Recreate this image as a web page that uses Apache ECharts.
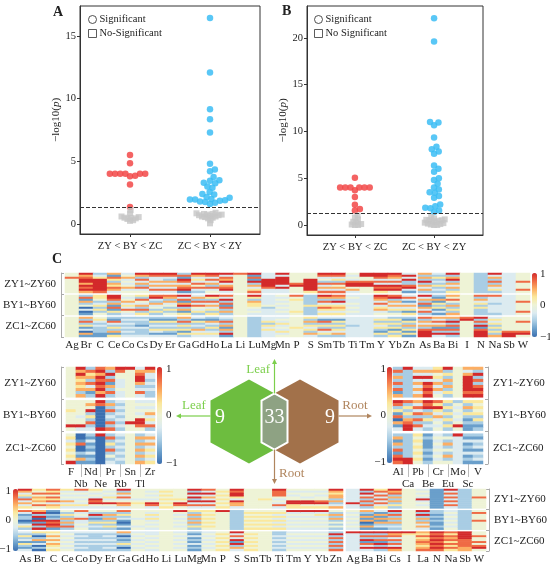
<!DOCTYPE html>
<html>
<head>
<meta charset="utf-8">
<script src="https://cdn.jsdelivr.net/npm/echarts@6/dist/echarts.min.js"></script>
<style>html,body{margin:0;padding:0;background:#fff}#chart{width:550px;height:568px}</style>
</head>
<body>
<div id="chart"></div>
<script>
var SERIF = 'Liberation Serif';
var PAL = ['#3b6fb0','#6a9fcb','#a9cde4','#dcebf0','#eef3d6','#fbe89c','#fcae63','#ef6b45','#d32a2b'];

// panels A / B : -log10(p) per element
var catNames = ['ZY < BY < ZC', 'ZC < BY < ZY'];
var pCut = 1.301;
var aRedSig = [5.5, 4.85, 4.0, 4.0, 4.0, 4.0, 4.0, 4.0, 3.85, 3.8, 3.15, 1.35];
var aRedNs = [1.1, 0.85, 0.6, 0.55, 0.5, 0.5, 0.45, 0.4, 0.3, 0.25];
var aBlueSig = [16.45, 12.1, 9.15, 8.35, 7.3, 4.8, 4.35, 4.2, 3.75, 3.5, 3.45, 3.3, 3.25, 3.0, 2.9, 2.55, 2.4, 2.35, 2.15, 2.1, 2.0, 1.95, 1.95, 1.9, 1.85, 1.8, 1.75, 1.7, 1.6];
var aBlueNs = [0.9, 0.85, 0.8, 0.8, 0.75, 0.75, 0.7, 0.7, 0.65, 0.6, 0.6, 0.55, 0.5, 0.45, 0.3, 0.05];
var bRedSig = [5.05, 4.0, 4.0, 4.0, 4.0, 4.0, 4.0, 3.7, 3.0, 2.15, 1.7, 1.55];
var bRedNs = [1.0, 0.8, 0.6, 0.35, 0.3, 0.1, 0.05, 0.0, 0.0];
var bBlueSig = [22.1, 19.6, 11.0, 10.95, 10.65, 9.35, 8.35, 8.1, 7.85, 7.6, 6.35, 6.0, 5.7, 5.0, 4.8, 4.4, 4.0, 3.8, 3.5, 3.45, 3.1, 2.9, 2.2, 2.0, 1.85, 1.8, 1.55, 1.4];
var bBlueNs = [0.85, 0.7, 0.6, 0.55, 0.5, 0.5, 0.45, 0.4, 0.3, 0.25, 0.2, 0.15, 0.1, 0.05, 0.0, 0.0];
var aTicks = [0, 5, 10, 15];
var bTicks = [0, 5, 10, 15, 20];

// panel C heatmaps: one string per column, rows ZY|BY|ZC, digit 0..8 = -1..1
var rowGroups = ['ZY1~ZY60', 'BY1~BY60', 'ZC1~ZC60'];
var topColsL = ['Ag','Br','C','Ce','Co','Cs','Dy','Er','Ga','Gd','Ho','La','Li','Lu','Mg','Mn','P','S','Sm','Tb','Ti','Tm','Y','Yb','Zn'];
var topCellsL = [
  '4474444444|4444444444|4444444444',
  '8678868786|2716240301|6272513061',
  '2358888887|5542352524|4532322211',
  '6175265763|8872617152|2173252615',
  '3463434634|4346353743|2323232323',
  '8627362734|5274362725|2322132223',
  '8733636373|7832634252|2152325313',
  '8732636373|7626342524|2152325213',
  '2718736781|8371682615|6272525152',
  '8635374732|3627374352|3152326353',
  '8737362734|8527363525|2163252353',
  '8376836783|7382717262|3272616281',
  '7444444444|4444444444|4444444444',
  '8171826357|8526554343|2222222222',
  '3338888733|3333342333|3352535333',
  '8388883833|4343434343|3435343534',
  '4444478444|7454444454|4444454444',
  '4448888885|2222252222|5262535263',
  '8734273637|8627357535|3172527352',
  '8735274637|7628356535|3152525362',
  '4343788463|3433434343|3333233333',
  '8844788444|3333333333|3333333333',
  '8873738785|8763735634|3525352152',
  '8763738784|7826363524|2525251525',
  '3838227831|3731363515|2152625151'
];
var topColsR = ['As','Ba','Bi','I','N','Na','Sb','W'];
var topCellsR = [
  '6262826362|8362716372|7263627888',
  '3252325232|2161525131|6373617283',
  '8268263625|6474262526|6282717282',
  '4444444444|4444444444|7844444444',
  '2222222222|7263525222|8272817888',
  '8362726352|7333233332|3535252526',
  '3333333333|3333333333|4444444788',
  '4444744474|4447444474|4474444784'
];
var midColsL = ['F','Nb','Nd','Ne','Pr','Rb','Sn','Tl','Zr'];
var midCellsL = [
  '4444444444|4445444484|4535454548',
  '8686565626|4444434483|0017002161',
  '2756273612|4648252723|2131213121',
  '7868787868|8700000008|8000000000',
  '6282716272|2627232727|2725272423',
  '8744333433|3232323232|3232323232',
  '8444444444|4444444844|4444444444',
  '3678862373|3434348874|2626262626',
  '8633232322|3434635372|3636353535'
];
var midColsR = ['Al','Ca','Pb','Be','Cr','Eu','Mo','Sc','V'];
var midCellsR = [
  '2726272716|8725170613|2616271787',
  '8222222222|7252526788|2222222288',
  '3638363636|6373727273|5454545454',
  '3638387878|8782625232|1211121212',
  '5645363634|7585363434|3434343434',
  '8252626252|5252525252|2426242624',
  '4444444444|2434343484|8333333333',
  '6368888878|5262521211|2131213121',
  '6282727878|5454525212|2132313231'
];
var botColsL = ['As','Br','C','Ce','Co','Dy','Er','Ga','Gd','Ho','Li','Lu','Mg','Mn','P','S','Sm','Tb','Ti','Tm','Y','Yb','Zn'];
var botCellsL = [
  '8635273635|7312201352|3252315213',
  '5474656474|6828081828|5202613020',
  '7574757365|1021287871|5464646545',
  '5343436353|4252626272|3434343434',
  '7343434353|7343733434|3232323232',
  '5434387843|4282125232|3222323222',
  '4343534843|4262625252|3232323232',
  '8263734763|7252310131|6202125202',
  '4444434544|4444344434|3434343434',
  '4343434873|4353534343|3343434343',
  '4545454545|4444444444|4444444444',
  '4444454874|8434343434|3434343434',
  '8283828373|5262626252|2131213121',
  '7383638373|5454545454|3434343434',
  '4545454545|8444444444|4545454545',
  '8788538663|2222222222|8373818263',
  '4444444444|4545454545|4545454545',
  '4444454444|4545454545|4444444444',
  '8777434373|4535353535|2232323232',
  '4343448855|8343434343|3434343434',
  '4344348845|8343434343|3434343434',
  '4343447845|8353434343|3434343434',
  '8656626236|4262624242|2827272727'
];
var botColsR = ['Ag','Ba','Bi','Cs','I','La','N','Na','Sb','W'];
var botCellsR = [
  '3333333833|4343434343|8333333333',
  '8283727272|6216160161|8272817383',
  '5737373735|3161616231|8272718282',
  '8672626252|8272626232|8673727386',
  '4444444444|4444444444|8544444444',
  '3434383434|8282626363|6575676567',
  '1111111111|2212121121|8787878787',
  '8373737373|3434343434|7576757575',
  '2222222222|2222222222|8888777766',
  '4444744444|4744474444|4474474784'
];
var vennCounts = [9, 33, 9];

var chart = echarts.init(document.getElementById('chart'));

var gA = {left: 80, top: 6, width: 180, height: 228, xmin: -0.625, xmax: 1.625, ymin: -0.8, ymax: 17.4, nameGap: 5};
var gB = {left: 307, top: 6, width: 176, height: 229, xmin: -0.605, xmax: 1.618, ymin: -1.07, ymax: 23.4, nameGap: 18};

// simple beeswarm in pixel space
function swarm(vals, kx, ky, d) {
  var order = vals.map(function(v, i){ return i; }).sort(function(a, b){ return vals[a] - vals[b]; });
  var placed = [], out = [];
  order.forEach(function(i){
    var y = vals[i] * ky, bad = [], cand = [0];
    placed.forEach(function(p){
      var dy = Math.abs(p.y - y);
      if (dy < d) {
        var h = Math.sqrt(d * d - dy * dy);
        bad.push([p.x - h, p.x + h]);
        cand.push(p.x - h, p.x + h);
      }
    });
    cand.sort(function(a, b){ return Math.abs(a) - Math.abs(b) || b - a; });
    var x = cand.find(function(c){ return bad.every(function(b){ return c <= b[0] + 1e-6 || c >= b[1] - 1e-6; }); });
    placed.push({x: x, y: y});
    out[i] = x / kx;
  });
  return out;
}

function column(vals, pos, g, d) {
  var kx = g.width / (g.xmax - g.xmin), ky = g.height / (g.ymax - g.ymin);
  var off = swarm(vals, kx, ky, d);
  return vals.map(function(v, i){ return [pos + off[i], v]; });
}

var rowIds = [];
for (var i = 0; i < 32; i++) rowIds.push('r' + i);

function heatSeries(cells, g) {
  var data = [];
  cells.forEach(function(s, ci){
    s.split('|').forEach(function(grp, gi){
      for (var r = 0; r < grp.length; r++) data.push([ci, gi * 11 + r, (+grp[r] - 4) / 4]);
    });
  });
  return {type: 'heatmap', xAxisIndex: g, yAxisIndex: g, data: data, progressive: 0, emphasis: {disabled: true}};
}

function scatterAxes(g, idx, ticks) {
  var x = {
    type: 'value', gridIndex: idx, min: g.xmin, max: g.xmax,
    axisLine: {show: true, onZero: false, lineStyle: {color: '#333'}},
    axisTick: {show: true, length: 3, customValues: [0, 1], lineStyle: {color: '#333'}},
    axisLabel: {customValues: [0, 1], formatter: function(v){ return catNames[Math.round(v)]; },
      fontFamily: SERIF, fontSize: 10.5, color: '#222', margin: 7},
    splitLine: {show: false}
  };
  var y = {
    type: 'value', gridIndex: idx, min: g.ymin, max: g.ymax,
    name: '\u2212log10({i|p})', nameLocation: 'middle', nameGap: g.nameGap,
    nameTextStyle: {fontFamily: SERIF, fontSize: 11, color: '#222', rich: {i: {fontFamily: SERIF, fontSize: 11, fontStyle: 'italic', color: '#222'}}},
    axisLine: {show: true, onZero: false, lineStyle: {color: '#333'}},
    axisTick: {show: true, length: 3, customValues: ticks, lineStyle: {color: '#333'}},
    axisLabel: {customValues: ticks, fontFamily: SERIF, fontSize: 10.5, color: '#222', margin: 4},
    splitLine: {show: false}
  };
  return [x, y];
}

function heatX(idx, cols, stagger) {
  var ax = {
    type: 'category', gridIndex: idx, data: cols, position: 'bottom',
    axisLine: {show: false}, axisTick: {show: false},
    axisLabel: {interval: 0, margin: 3, fontFamily: SERIF, fontSize: 11, color: '#222'},
    splitLine: {show: false}
  };
  if (stagger) {
    ax.axisLabel.formatter = function(v, i){ return i % 2 ? '\n' + v : v; };
    ax.axisLabel.lineHeight = 12;
    ax.axisLabel.margin = 2;
    ax.axisTick = {show: true, alignWithLabel: true, length: 13, interval: function(i){ return i % 2 === 1; }, lineStyle: {color: '#bbb'}};
  }
  return ax;
}
function heatY(idx) {
  return {type: 'category', gridIndex: idx, data: rowIds, inverse: true, show: false, position: 'left'};
}
function labelY(idx, pos, off) {
  return {
    type: 'category', gridIndex: idx, data: rowGroups, inverse: true, position: pos, offset: off,
    axisLine: {show: true, lineStyle: {color: '#aaa'}},
    axisTick: {show: true, inside: true, length: 3, lineStyle: {color: '#aaa'}},
    axisLabel: {margin: 5, fontFamily: SERIF, fontSize: 11, color: '#222'},
    splitLine: {show: false}
  };
}

var axA = scatterAxes(gA, 0, aTicks), axB = scatterAxes(gB, 1, bTicks);

var grids = [
  {left: gA.left, top: gA.top, width: gA.width, height: gA.height, show: true, borderColor: '#333', borderWidth: 1},
  {left: gB.left, top: gB.top, width: gB.width, height: gB.height, show: true, borderColor: '#333', borderWidth: 1},
  {left: 64, top: 273, width: 352, height: 64},
  {left: 418, top: 273, width: 112, height: 64},
  {left: 65, top: 367, width: 90, height: 97},
  {left: 393, top: 367, width: 90, height: 97},
  {left: 18, top: 489, width: 325, height: 62},
  {left: 346, top: 489, width: 140, height: 62}
];

function cbar(left, top, h, series) {
  return {type: 'continuous', min: -1, max: 1, seriesIndex: series, inRange: {color: PAL},
    calculable: false, show: true, left: left, top: top, itemWidth: 5, itemHeight: h, padding: 0, text: null, hoverLink: false};
}

function txt(x, y, s, o) {
  o = o || {};
  return {type: 'text', x: x, y: y, z: 10, style: {text: s, fill: o.fill || '#222', fontFamily: SERIF,
    fontSize: o.size || 11, fontWeight: o.weight || 'normal',
    textAlign: o.align || 'left', align: o.align || 'left', textVerticalAlign: 'middle', verticalAlign: 'middle'}};
}
function arrow(x1, y1, x2, y2, c) {
  var dx = x2 - x1, dy = y2 - y1, L = Math.sqrt(dx * dx + dy * dy), ux = dx / L, uy = dy / L;
  var bx = x2 - ux * 5, by = y2 - uy * 5;
  return [
    {type: 'line', z: 5, shape: {x1: x1, y1: y1, x2: bx, y2: by}, style: {stroke: c, lineWidth: 1.2}},
    {type: 'polygon', z: 5, shape: {points: [[x2, y2], [bx - uy * 2.5, by + ux * 2.5], [bx + uy * 2.5, by - ux * 2.5]]}, style: {fill: c}}
  ];
}

// venn hexagons
var cy = 421.5, hh = 42, hw = 38.5, gx = 249, bx = 300, mx = (gx + bx) / 2;
function hex(cx) {
  return [[cx, cy - hh], [cx + hw, cy - hh / 2], [cx + hw, cy + hh / 2], [cx, cy + hh], [cx - hw, cy + hh / 2], [cx - hw, cy - hh / 2]];
}
var lensDy = hh - (mx - gx) * (hh / 2) / hw;
var lens = [[mx, cy - lensDy], [gx + hw, cy - hh / 2], [gx + hw, cy + hh / 2], [mx, cy + lensDy], [bx - hw, cy + hh / 2], [bx - hw, cy - hh / 2]];
var GREEN = '#6dbd3f', BROWN = '#a2714a', LGREEN = '#7ccf4c', LBROWN = '#b0855e';

var graphics = [
  txt(53, 12, 'A', {size: 14, weight: 'bold'}),
  txt(282, 11, 'B', {size: 14, weight: 'bold'}),
  txt(52, 259, 'C', {size: 14, weight: 'bold'}),
  txt(540, 274, '1'), txt(540, 305, '0'), txt(540, 337, '\u22121'),
  txt(166, 369, '1'), txt(166, 415, '0'), txt(166, 463, '\u22121'),
  txt(386, 369, '1', {align: 'right'}), txt(386, 415, '0', {align: 'right'}), txt(386, 462, '\u22121', {align: 'right'}),
  txt(11, 491, '1', {align: 'right'}), txt(11, 520, '0', {align: 'right'}), txt(11, 549, '\u22121', {align: 'right'}),
  {type: 'polygon', z: 3, shape: {points: hex(bx)}, style: {fill: BROWN}},
  {type: 'polygon', z: 3, shape: {points: hex(gx)}, style: {fill: GREEN}},
  {type: 'polygon', z: 4, shape: {points: lens}, style: {fill: '#8ea283', stroke: '#fff', lineWidth: 2}},
  txt(220, 418, String(vennCounts[0]), {size: 20, fill: '#fff', align: 'center'}),
  txt(mx, 418, String(vennCounts[1]), {size: 20, fill: '#fff', align: 'center'}),
  txt(330, 418, String(vennCounts[2]), {size: 20, fill: '#fff', align: 'center'}),
  txt(270, 370, 'Leaf', {size: 13, fill: LGREEN, align: 'right'}),
  txt(194, 406, 'Leaf', {size: 13, fill: LGREEN, align: 'center'}),
  txt(355, 406, 'Root', {size: 13, fill: LBROWN, align: 'center'}),
  txt(279, 474, 'Root', {size: 13, fill: LBROWN})
].concat(
  arrow(mx, cy - lensDy, mx, 359, LGREEN),
  arrow(gx - hw, 416, 176, 416, LGREEN),
  arrow(bx + hw, 416, 372, 416, LBROWN),
  arrow(mx, cy + lensDy, mx, 484, LBROWN)
);

function legendFor(nsName, left) {
  var hollow = {color: '#fff', borderColor: '#333', borderWidth: 1};
  return {left: left, top: 9, orient: 'vertical', itemWidth: 8, itemHeight: 8, itemGap: 3, selectedMode: false,
    textStyle: {fontFamily: SERIF, fontSize: 10.5, color: '#222', padding: [0, 0, 0, -2]},
    data: [{name: 'Significant', icon: 'circle', itemStyle: hollow}, {name: nsName, icon: 'rect', itemStyle: hollow}]};
}

function cutLine() {
  return {silent: true, symbol: ['none', 'none'], label: {show: false},
    lineStyle: {type: 'dashed', color: '#333', width: 1}, data: [{yAxis: pCut}]};
}
var RED = {color: '#f24848', opacity: 0.85};
var BLUE = {color: '#3cbdf4', opacity: 0.85};
var GRAY = {color: '#c6c6c6', opacity: 0.8};
var DS = 5.2, DN = 3.2;

var series = [
  {type: 'scatter', name: 'Significant', xAxisIndex: 0, yAxisIndex: 0, symbol: 'circle', symbolSize: 6.5, itemStyle: RED, data: column(aRedSig, 0, gA, DS)},
  {type: 'scatter', name: 'Significant', xAxisIndex: 0, yAxisIndex: 0, symbol: 'circle', symbolSize: 6.5, itemStyle: BLUE, data: column(aBlueSig, 1, gA, DS)},
  {type: 'scatter', name: 'No-Significant', xAxisIndex: 0, yAxisIndex: 0, symbol: 'rect', symbolSize: 6, itemStyle: GRAY,
    data: column(aRedNs, 0, gA, DN).concat(column(aBlueNs, 1, gA, DN)), markLine: cutLine()},
  {type: 'scatter', name: 'Significant', xAxisIndex: 1, yAxisIndex: 1, symbol: 'circle', symbolSize: 6.5, itemStyle: RED, data: column(bRedSig, 0, gB, DS)},
  {type: 'scatter', name: 'Significant', xAxisIndex: 1, yAxisIndex: 1, symbol: 'circle', symbolSize: 6.5, itemStyle: BLUE, data: column(bBlueSig, 1, gB, DS)},
  {type: 'scatter', name: 'No Significant', xAxisIndex: 1, yAxisIndex: 1, symbol: 'rect', symbolSize: 6, itemStyle: GRAY,
    data: column(bRedNs, 0, gB, DN).concat(column(bBlueNs, 1, gB, DN)), markLine: cutLine()},
  heatSeries(topCellsL, 2),
  heatSeries(topCellsR, 3),
  heatSeries(midCellsL, 4),
  heatSeries(midCellsR, 5),
  heatSeries(botCellsL, 6),
  heatSeries(botCellsR, 7)
];

var option = {
  animation: false,
  textStyle: {fontFamily: SERIF},
  grid: grids,
  legend: [legendFor('No-Significant', 83), legendFor('No Significant', 309)],
  xAxis: [axA[0], axB[0], heatX(2, topColsL), heatX(3, topColsR), heatX(4, midColsL, true), heatX(5, midColsR, true), heatX(6, botColsL), heatX(7, botColsR)],
  yAxis: [axA[1], axB[1], heatY(2), heatY(3), heatY(4), heatY(5), heatY(6), heatY(7),
    labelY(2, 'left', 4), labelY(4, 'left', 5), labelY(5, 'right', 5), labelY(7, 'right', 3)],
  visualMap: [cbar(532, 273, 64, [6, 7]), cbar(157, 367, 97, [8]), cbar(387, 367, 96, [9]), cbar(13, 489, 62, [10, 11])],
  series: series,
  graphic: {elements: graphics}
};
chart.setOption(option);
</script>
</body>
</html>
